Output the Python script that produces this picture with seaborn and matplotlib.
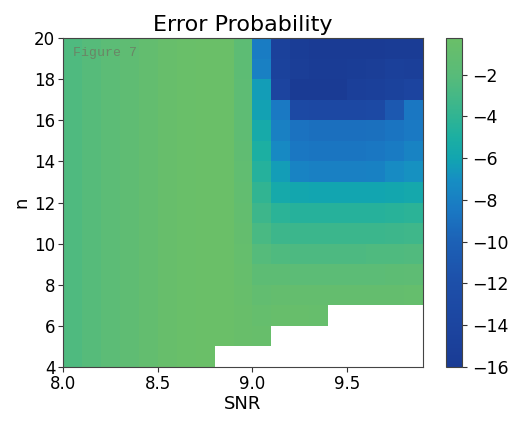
import numpy as np
import pandas as pd
import matplotlib
matplotlib.use("Agg")
import matplotlib.pyplot as plt
import seaborn as sns
from matplotlib.colors import LinearSegmentedColormap

# ---------------- data ----------------
snr = [8.0, 8.1, 8.2, 8.3, 8.4, 8.5, 8.6, 8.7, 8.8, 8.9,
       9.0, 9.1, 9.2, 9.3, 9.4, 9.5, 9.6, 9.7, 9.8]
n_values = list(range(4, 20))
nan = np.nan

left = [-2.5, -2.1, -1.7, -1.4, -1.0, -0.6, -0.4, -0.3, -0.3]

row_04 = [-2.5, -2.1, -1.7, -1.4, -1.0, -0.6, -0.4, -0.3, nan, nan,
          nan, nan, nan, nan, nan, nan, nan, nan, nan]
row_05 = left + [-0.5, -0.6, nan, nan, nan, nan, nan, nan, nan, nan]
row_06 = left + [-0.5, -0.8, -0.6, -0.6, -0.7, nan, nan, nan, nan, nan]
row_07 = left + [-0.6, -1.1, -0.9, -0.9, -0.9, -0.9, -0.9, -0.9, -0.9, -0.8]
row_08 = left + [-0.7, -1.6, -1.6, -1.7, -1.7, -1.7, -1.7, -1.7, -1.6, -1.5]
row_09 = left + [-0.8, -2.2, -2.5, -2.6, -2.6, -2.6, -2.6, -2.5, -2.5, -2.4]
row_10 = left + [-0.9, -2.8, -3.4, -3.5, -3.5, -3.5, -3.5, -3.5, -3.4, -3.3]
row_11 = left + [-1.0, -3.4, -4.3, -4.5, -4.5, -4.5, -4.5, -4.5, -4.4, -4.3]
row_12 = left + [-1.1, -4.0, -5.6, -5.9, -6.0, -6.0, -6.0, -6.0, -5.9, -5.7]
row_13 = left + [-1.2, -4.6, -6.4, -7.8, -8.0, -8.0, -8.0, -7.9, -7.3, -6.9]
row_14 = left + [-1.3, -5.0, -7.4, -8.6, -8.7, -8.7, -8.7, -8.6, -8.3, -7.8]
row_15 = left + [-1.4, -5.5, -8.0, -8.9, -9.1, -9.1, -9.1, -9.0, -8.8, -8.4]
row_16 = left + [-1.5, -6.2, -8.4, -13.2, -13.4, -13.4, -13.4, -13.2, -11.0, -8.6]
row_17 = left + [-1.5, -6.4, -14.2, -15.9, -16.0, -16.0, -15.2, -15.0, -14.6, -14.2]
row_18 = left + [-1.6, -8.0, -14.6, -15.4, -15.8, -15.8, -15.6, -15.4, -15.0, -15.2]
row_19 = left + [-1.6, -8.2, -14.8, -15.6, -15.9, -15.9, -15.9, -15.9, -15.8, -15.8]

rows = [row_04, row_05, row_06, row_07, row_08, row_09, row_10, row_11,
        row_12, row_13, row_14, row_15, row_16, row_17, row_18, row_19]

x_ticks = [8.0, 8.5, 9.0, 9.5]
y_ticks = [4, 6, 8, 10, 12, 14, 16, 18, 20]
cbar_ticks = [-2, -4, -6, -8, -10, -12, -14, -16]
vmin, vmax = -16, -0.25

# ---------------- colormap ----------------
cm_vals = [-16, -14, -12, -10, -8.5, -7, -6, -5, -4, -3, -2, -1, -0.25]
cm_cols = ["#1a3b94", "#1c45a0", "#1d4fa9", "#1c61b6", "#1a78c3", "#168fc3",
           "#12a5b0", "#1cafa2", "#30b493", "#45b886", "#58bb79", "#63bd6f",
           "#6abf68"]
cmap = LinearSegmentedColormap.from_list(
    "errp", [((v - vmin) / (vmax - vmin), c) for v, c in zip(cm_vals, cm_cols)])

df = pd.DataFrame(rows, index=n_values, columns=snr).iloc[::-1]

# ---------------- figure ----------------
fig = plt.figure(figsize=(5.12, 4.25), dpi=100)
ax = fig.add_axes([63 / 512, 58 / 425, 360 / 512, 329 / 425])
cax = fig.add_axes([446 / 512, 58 / 425, 16 / 512, 329 / 425])

sns.heatmap(df, ax=ax, cbar_ax=cax, cmap=cmap, vmin=vmin, vmax=vmax,
            xticklabels=False, yticklabels=False,
            cbar_kws={"ticks": cbar_ticks})

step = snr[1] - snr[0]
ax.set_xticks([(t - snr[0]) / step for t in x_ticks])
ax.set_xticklabels([f"{t:.1f}" for t in x_ticks], fontsize=12)
top_n = n_values[-1] + 1
ax.set_yticks([top_n - t for t in y_ticks])
ax.set_yticklabels([str(t) for t in y_ticks], fontsize=12, rotation=0)
ax.tick_params(axis="both", length=3.5, width=0.8, color="#333333", pad=2)

for sp in ax.spines.values():
    sp.set_visible(True)
    sp.set_linewidth(0.8)
    sp.set_color("#444444")

ax.set_xlabel("SNR", fontsize=13, labelpad=2)
ax.set_ylabel("n", fontsize=13, labelpad=3)
ax.set_title("Error Probability", fontsize=16, pad=5)

ax.text(0.028, 0.955, "Figure 7", transform=ax.transAxes,
        family=["Liberation Mono", "DejaVu Sans Mono"], fontsize=9.5,
        color="#6a8566", va="center", ha="left")

cb = ax.collections[0].colorbar
cb.outline.set_visible(True)
cb.outline.set_linewidth(0.8)
cb.outline.set_edgecolor("#444444")
cax.tick_params(labelsize=12.5, length=3.5, width=0.8, color="#333333")
cax.set_yticklabels([f"\u2212{abs(t)}" for t in cbar_ticks])

fig.savefig("out.png", dpi=100)
